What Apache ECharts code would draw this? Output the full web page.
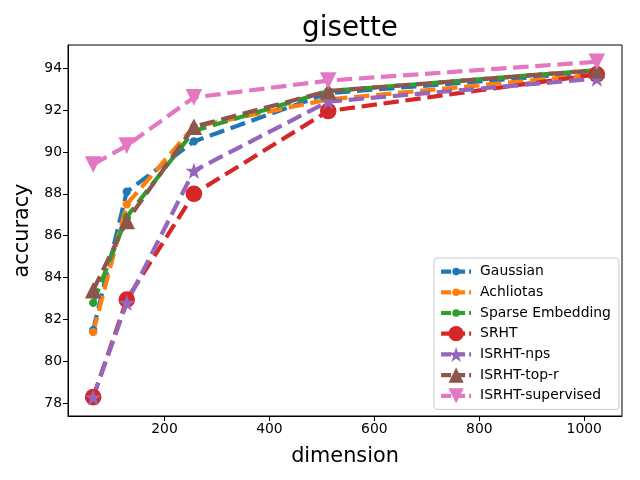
<!DOCTYPE html>
<html><head><meta charset="utf-8">
<script src="https://cdn.jsdelivr.net/npm/echarts@6/dist/echarts.min.js"></script>
<style>html,body{margin:0;padding:0;background:#fff}#c{width:640px;height:480px}</style>
</head><body><div id="c"></div>
<script>
const dims = [64, 128, 256, 512, 1024];
const gaussian = [81.5, 88.1, 90.5, 92.8, 93.8];
const achlioptas = [81.4, 87.5, 91.2, 92.5, 93.7];
const sparse = [82.8, 86.9, 91.0, 92.9, 93.9];
const srht = [78.3, 82.95, 88.0, 91.95, 93.7];
const nps = [78.3, 82.8, 89.1, 92.4, 93.5];
const topr = [83.4, 86.7, 91.2, 92.9, 93.9];
const supervised = [89.4, 90.3, 92.6, 93.4, 94.3];
const xTicks = [200, 400, 600, 800, 1000];
const yTicks = [78, 80, 82, 84, 86, 88, 90, 92, 94];

const STAR = 'path://M50,0 L61.2,34.5 L97.6,34.5 L68.2,55.9 L79.4,90.5 L50,69.1 L20.6,90.5 L31.8,55.9 L2.4,34.5 L38.8,34.5 Z';
// small circle padded inside a 100x100 box (half size)
const SMALL = 'path://M0,0 L0,0 M100,100 L100,100 M75,50 A25,25 0 1,1 25,50 A25,25 0 1,1 75,50 Z';
const F = 'DejaVu Sans';
function mk(name, data, color, symbol, size, rot) {
  return {
    name, type: 'line', data: dims.map((d, i) => [d, data[i]]),
    symbol, symbolSize: size, symbolRotate: rot || 0, showSymbol: true,
    lineStyle: { color, width: 4.2, type: [15.4, 6.7] },
    itemStyle: { color, borderWidth: 0 },
    emphasis: { disabled: true }, animation: false
  };
}
const chart = echarts.init(document.getElementById('c'));
chart.setOption({
  animation: false,
  title: { text: 'gisette', left: 345, textAlign: 'center', top: 10,
    textStyle: { fontFamily: F, fontSize: 27.8, fontWeight: 'normal', color: '#000' } },
  grid: { left: 68, right: 18, top: 45, bottom: 64, show: true, borderColor: '#000', borderWidth: 1, backgroundColor: 'transparent' },
  xAxis: {
    type: 'value', min: 16, max: 1072,
    name: 'dimension', nameLocation: 'middle', nameGap: 30,
    nameTextStyle: { fontFamily: F, fontSize: 20.8, color: '#000' },
    axisLine: { show: true, lineStyle: { color: '#000' } },
    axisTick: { show: true, length: 5, lineStyle: { color: '#000' }, customValues: xTicks },
    axisLabel: { fontFamily: F, fontSize: 13.9, color: '#000', margin: 6, customValues: xTicks, formatter: v => String(v) },
    splitLine: { show: false }
  },
  yAxis: {
    type: 'value', min: 77.4, max: 95.1,
    name: 'accuracy', nameLocation: 'middle', nameGap: 30, nameRotate: 90,
    nameTextStyle: { fontFamily: F, fontSize: 20.8, color: '#000' },
    axisLine: { show: true, lineStyle: { color: '#000' } },
    axisTick: { show: true, length: 5, lineStyle: { color: '#000' }, customValues: yTicks },
    axisLabel: { fontFamily: F, fontSize: 13.9, color: '#000', margin: 6, customValues: yTicks, formatter: v => String(v) },
    splitLine: { show: false }
  },
  legend: {
    orient: 'vertical', left: 434, top: 258,
    itemWidth: 30, itemHeight: 19, itemGap: 5.5,
    padding: [6, 8, 6, 5],
    backgroundColor: 'rgba(255,255,255,0.8)', borderColor: '#ccc', borderWidth: 1, borderRadius: 3,
    lineStyle: { width: 4.2, type: [10, 4] },
    textStyle: { fontFamily: F, fontSize: 13.9, color: '#000', padding: [0, 0, 0, 4] },
    data: ['Gaussian', 'Achliotas', 'Sparse Embedding', 'SRHT', 'ISRHT-nps', 'ISRHT-top-r', 'ISRHT-supervised']
  },
  series: [
    mk('Gaussian', gaussian, '#1f77b4', SMALL, 16.6),
    mk('Achliotas', achlioptas, '#ff7f0e', SMALL, 16.6),
    mk('Sparse Embedding', sparse, '#2ca02c', SMALL, 16.6),
    mk('SRHT', srht, '#d62728', 'circle', 16.6),
    mk('ISRHT-nps', nps, '#9467bd', STAR, 16.6),
    mk('ISRHT-top-r', topr, '#8c564b', 'triangle', 16.6),
    mk('ISRHT-supervised', supervised, '#e377c2', 'triangle', 16.6, 180)
  ]
});
</script></body></html>
